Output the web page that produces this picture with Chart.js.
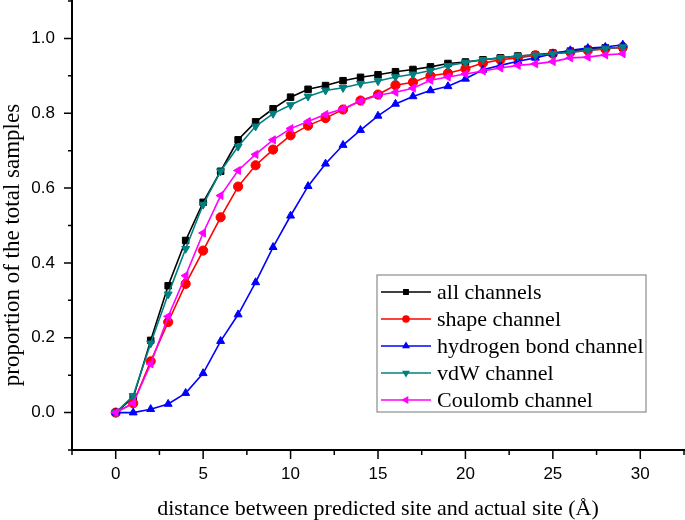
<!DOCTYPE html>
<html>
<head>
<meta charset="utf-8">
<script src="https://cdn.jsdelivr.net/npm/chart.js@4.4.1/dist/chart.umd.min.js"></script>
<style>
  body { margin: 0; background: #fff; }
  #wrap { width: 685px; height: 520px; position: relative; }
</style>
</head>
<body>
<div id="wrap"><canvas id="chart"></canvas></div>
<script>
/* ---------- data ---------- */
const distances = [0, 1, 2, 3, 4, 5, 6, 7, 8, 9, 10, 11, 12, 13, 14, 15, 16, 17, 18, 19, 20, 21, 22, 23, 24, 25, 26, 27, 28, 29];
const allChannels = [0, 0.04, 0.193, 0.339, 0.460, 0.562, 0.645, 0.729, 0.777, 0.812, 0.843, 0.864, 0.874, 0.887, 0.896, 0.903, 0.911, 0.917, 0.924, 0.933, 0.937, 0.943, 0.948, 0.953, 0.956, 0.961, 0.966, 0.971, 0.975, 0.975];
const shapeChannel = [0, 0.025, 0.137, 0.242, 0.344, 0.433, 0.522, 0.604, 0.661, 0.703, 0.741, 0.767, 0.787, 0.810, 0.834, 0.850, 0.875, 0.883, 0.900, 0.907, 0.919, 0.934, 0.943, 0.948, 0.955, 0.959, 0.963, 0.968, 0.972, 0.977];
const hbondChannel = [0, 0, 0.009, 0.023, 0.052, 0.105, 0.191, 0.262, 0.348, 0.442, 0.526, 0.605, 0.665, 0.715, 0.755, 0.793, 0.825, 0.845, 0.861, 0.872, 0.892, 0.916, 0.928, 0.939, 0.948, 0.959, 0.968, 0.974, 0.977, 0.983];
const vdwChannel = [0, 0.045, 0.185, 0.316, 0.438, 0.556, 0.645, 0.711, 0.765, 0.799, 0.822, 0.845, 0.861, 0.868, 0.879, 0.886, 0.897, 0.904, 0.914, 0.927, 0.936, 0.943, 0.948, 0.953, 0.955, 0.959, 0.963, 0.968, 0.973, 0.977];
const coulombChannel = [0, 0.025, 0.130, 0.257, 0.366, 0.480, 0.580, 0.647, 0.690, 0.729, 0.759, 0.778, 0.797, 0.812, 0.832, 0.848, 0.856, 0.867, 0.888, 0.897, 0.905, 0.913, 0.921, 0.928, 0.932, 0.938, 0.948, 0.950, 0.956, 0.959];

const seriesNames = ["all channels", "shape channel", "hydrogen bond channel", "vdW channel", "Coulomb channel"];
const xTickLabels = [0, 5, 10, 15, 20, 25, 30];
const yTickLabels = [0.0, 0.2, 0.4, 0.6, 0.8, 1.0];

/* ---------- styles ---------- */
const colors = ["#000000", "#ff0000", "#0000ff", "#008080", "#ff00ff"];
const markers = ["rect", "circle", "triangle", "triangle", "triangle"];
const rotations = [0, 0, 0, 180, 270];
const values = [allChannels, shapeChannel, hbondChannel, vdwChannel, coulombChannel];

const toPoints = (arr) => arr.map((v, i) => ({ x: distances[i], y: v }));

const datasets = values.map((arr, i) => ({
  label: seriesNames[i],
  data: toPoints(arr),
  borderColor: colors[i],
  backgroundColor: colors[i],
  borderWidth: 1.6,
  pointStyle: markers[i],
  pointRotation: rotations[i],
  pointRadius: 4.6,
  pointBorderWidth: 1,
  order: 5 - i,
}));

/* ---------- axis ticks (major + minor) and the y title ---------- */
const tickMarks = {
  id: "tickMarks",
  afterDraw(chart) {
    const ctx = chart.ctx;
    const xs = chart.scales.x, ys = chart.scales.y;
    const area = chart.chartArea;
    ctx.save();
    ctx.strokeStyle = "#000";
    ctx.lineWidth = 1.5;
    ctx.beginPath();
    for (let v = -2.5; v <= 32.5; v += 2.5) {
      const px = xs.getPixelForValue(v);
      const major = Math.abs(v % 5) < 1e-6;
      ctx.moveTo(px, area.bottom);
      ctx.lineTo(px, area.bottom + (major ? 9 : 5));
    }
    for (let k = -1; k <= 11; k++) {
      const py = ys.getPixelForValue(k / 10);
      const major = k % 2 === 0;
      ctx.moveTo(area.left, py);
      ctx.lineTo(area.left - (major ? 8 : 4), py);
    }
    ctx.stroke();
    // y title, Origin puts it a little below the middle
    ctx.translate(13, 245);
    ctx.rotate(-Math.PI / 2);
    ctx.fillStyle = "#000";
    ctx.font = "23px 'Liberation Serif'";
    ctx.textAlign = "center";
    ctx.textBaseline = "middle";
    ctx.fillText("proportion of the total samples", 0, 0);
    ctx.restore();
  }
};

/* ---------- Origin-style legend: line with marker in the middle ---------- */
const boxLegend = {
  id: "boxLegend",
  afterDraw(chart) {
    const ctx = chart.ctx;
    const left = 377, top = 275, w = 269, h = 137, rowH = 27;
    ctx.save();
    ctx.fillStyle = "#fff";
    ctx.fillRect(left, top, w, h);
    ctx.strokeStyle = "#8c8c8c";
    ctx.lineWidth = 1.2;
    ctx.strokeRect(left, top, w, h);
    chart.data.datasets.forEach((ds, i) => {
      const cy = top + 17 + i * rowH;
      ctx.strokeStyle = ds.borderColor;
      ctx.fillStyle = ds.backgroundColor;
      ctx.lineWidth = 1.6;
      ctx.beginPath();
      ctx.moveTo(left + 4, cy);
      ctx.lineTo(left + 54, cy);
      ctx.stroke();
      Chart.helpers.drawPoint(ctx, {
        pointStyle: ds.pointStyle, rotation: ds.pointRotation, radius: 3, borderWidth: 1
      }, left + 29, cy);
      ctx.fillStyle = "#000";
      ctx.font = "22px 'Liberation Serif'";
      ctx.textBaseline = "middle";
      ctx.fillText(ds.label, left + 60, cy + 1);
    });
    ctx.restore();
  }
};

new Chart(document.getElementById("chart"), {
  type: "line",
  data: { datasets },
  plugins: [tickMarks, boxLegend],
  options: {
    responsive: true,
    maintainAspectRatio: false,
    animation: false,
    layout: { autoPadding: false, padding: { top: 1, right: 1, left: 0, bottom: 0 } },
    plugins: { legend: { display: false }, tooltip: { enabled: false } },
    scales: {
      x: {
        type: "linear",
        min: -2.5,
        max: 32.5,
        afterFit(s) { s.height = 70; s.paddingLeft = 0; s.paddingRight = 0; },
        grid: { display: false },
        border: { display: true, color: "#000", width: 2 },
        ticks: {
          stepSize: 2.5,
          autoSkip: false,
          maxRotation: 0,
          padding: 6,
          color: "#000",
          font: { family: "'Liberation Sans'", size: 17 },
          callback: (v) => xTickLabels.includes(v) ? String(v) : null,
        },
        title: {
          display: true,
          text: "distance between predicted site and actual site (Å)",
          color: "#000",
          font: { family: "'Liberation Serif'", size: 22 },
          padding: { top: 0, bottom: -2 },
        },
      },
      y: {
        min: -0.1,
        max: 1.1,
        afterFit(s) { s.width = 72; s.paddingTop = 0; s.paddingBottom = 0; },
        grid: { display: false },
        border: { display: true, color: "#000", width: 2 },
        ticks: {
          stepSize: 0.1,
          autoSkip: false,
          padding: 9,
          color: "#000",
          font: { family: "'Liberation Sans'", size: 17 },
          callback: (v) => {
            const r = Math.round(v * 10) / 10;
            return yTickLabels.some(t => Math.abs(t - r) < 1e-6) ? r.toFixed(1) : null;
          },
        },
      },
    },
  },
});
</script>
</body>
</html>
